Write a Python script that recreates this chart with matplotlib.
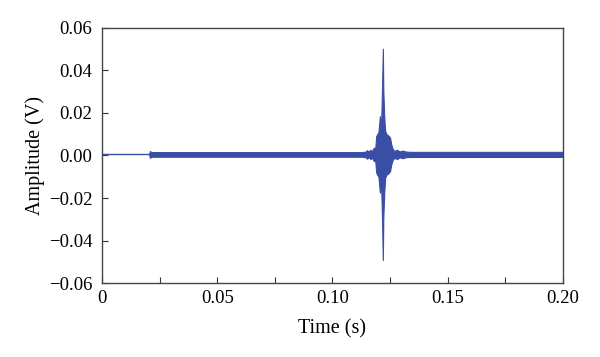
import numpy as np
import matplotlib.pyplot as plt
from matplotlib.ticker import MultipleLocator

plt.rcParams['font.family'] = ['Liberation Serif', 'DejaVu Serif']

# pre-trigger flat part of the signal (s, V)
flat_t = [0.0, 0.0205]
flat_v = [0.0005, 0.0005]

env_t = [0.0205, 0.0208, 0.0212, 0.0218, 0.0230, 0.040, 0.060, 0.080, 0.100,
         0.1130, 0.1145, 0.1150, 0.1158, 0.1165, 0.1172, 0.1180, 0.1186,
         0.1190, 0.1194, 0.1200, 0.1206, 0.1211, 0.1215, 0.1219, 0.1221,
         0.1225, 0.1229, 0.1235, 0.1242, 0.1250, 0.1256, 0.1262, 0.1270,
         0.1280, 0.1292, 0.1305, 0.1320, 0.1340, 0.150, 0.175, 0.200]
env_v = [0.0004, 0.0016, 0.0013, 0.0011, 0.0011, 0.0011, 0.0011, 0.0011, 0.0011,
         0.0011, 0.0014, 0.0020, 0.0013, 0.0022, 0.0015, 0.0032, 0.0028,
         0.0085, 0.0095, 0.0105, 0.0180, 0.0120, 0.0290, 0.0497, 0.0300,
         0.0180, 0.0110, 0.0095, 0.0090, 0.0080, 0.0045, 0.0025, 0.0016,
         0.0022, 0.0014, 0.0018, 0.0013, 0.0012, 0.0012, 0.0012, 0.0012]

line_color = '#3a4ea6'

fig = plt.figure(figsize=(6.0, 3.57), dpi=100)
ax = fig.add_axes([0.170, 0.207, 0.768, 0.715])

env_t = np.array(env_t)
env_v = np.array(env_v)
ax.plot(flat_t, flat_v, color=line_color, lw=1.0)
ax.fill_between(env_t, 0.0005 - env_v, 0.0005 + env_v, color=line_color,
                lw=0.8, edgecolor=line_color)

ax.set_xlim(0, 0.2)
ax.set_ylim(-0.06, 0.06)
ax.xaxis.set_major_locator(MultipleLocator(0.05))
ax.xaxis.set_minor_locator(MultipleLocator(0.025))
ax.yaxis.set_major_locator(MultipleLocator(0.02))
ax.set_xticks([0, 0.05, 0.10, 0.15, 0.20])
ax.set_xticklabels(['0', '0.05', '0.10', '0.15', '0.20'])
ax.set_yticks([-0.06, -0.04, -0.02, 0.0, 0.02, 0.04, 0.06])
ax.set_yticklabels(['\u22120.06', '\u22120.04', '\u22120.02', '0.00',
                    '0.02', '0.04', '0.06'])

ax.tick_params(which='both', direction='in', length=4, width=0.8,
               labelsize=13.5, color='#333333')
ax.tick_params(axis='x', pad=5)
ax.tick_params(axis='y', pad=7)
for s in ax.spines.values():
    s.set_color('#444444')
    s.set_linewidth(1.0)

ax.set_xlabel('Time (s)', fontsize=14.5, labelpad=9)
ax.set_ylabel('Amplitude (V)', fontsize=14.5, labelpad=3)

fig.savefig('out.png', dpi=100)
